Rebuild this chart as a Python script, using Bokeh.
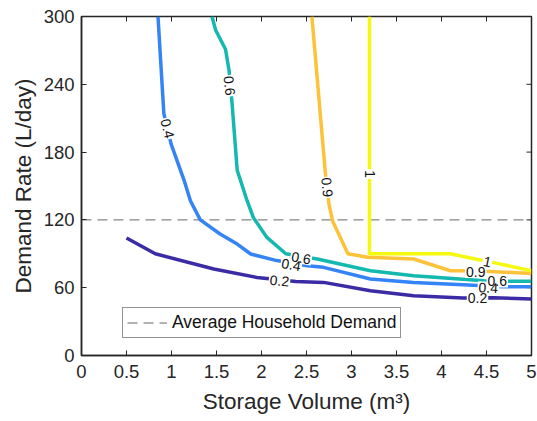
import math
from bokeh.plotting import figure
from bokeh.models import (FixedTicker, NumeralTickFormatter,
                          Legend, LegendItem, Range1d, ColumnDataSource)
from bokeh.embed import file_html
from bokeh.resources import INLINE
from bokeh.core.properties import value

# ---------------- data ----------------
x_lim = [0, 5]
y_lim = [0, 300]
x_ticks = [0, 0.5, 1, 1.5, 2, 2.5, 3, 3.5, 4, 4.5, 5]
y_ticks = [0, 60, 120, 180, 240, 300]
avg_demand = 120

x_02 = [0.5, 0.82, 1.47, 1.95, 2.38, 2.69, 3.21, 3.69, 4.24, 4.58, 5.0]
y_02 = [104, 90, 76.5, 69, 65.5, 64.7, 57.3, 52.9, 50.8, 51, 50]

x_04 = [0.85, 0.915, 0.996, 1.14, 1.21, 1.32, 1.54, 1.73, 1.88, 2.17, 2.51, 2.69, 3.21, 3.69, 4.24, 4.69, 5.0]
y_04 = [300, 214, 187, 155, 137, 120, 107.5, 98.6, 89.8, 84, 79.4, 78, 67.7, 64.7, 62.6, 60.9, 60.8]

x_06 = [1.45, 1.49, 1.6, 1.64, 1.67, 1.73, 1.84, 1.91, 2.06, 2.27, 2.62, 3.21, 3.69, 4.47, 4.8, 5.0]
y_06 = [300, 288, 271, 252, 226, 164, 137, 122, 104.5, 90, 85.4, 75, 70.6, 66.2, 65.6, 65.6]

x_09 = [2.56, 2.71, 2.75, 2.79, 2.96, 3.18, 3.69, 4.1, 4.21, 4.54, 5.0]
y_09 = [300, 161, 134, 119, 90, 87, 85.4, 75, 75, 74.4, 72.6]

x_10 = [3.2, 3.2, 4.1, 4.43, 4.62, 5.0]
y_10 = [300, 90, 90, 84.5, 81.5, 75]

levels = ["0.2", "0.4", "0.6", "0.9", "1"]
level_colors = ["#3B2CA6", "#3484F5", "#14B8AE", "#FCC33A", "#F5F80F"]

label_text = ["0.4", "0.6", "0.9", "1", "0.2", "0.4", "0.6", "1", "0.9", "0.6", "0.4", "0.2"]
label_x = [0.956, 1.645, 2.73, 3.2, 2.2, 2.33, 2.44, 4.51, 4.38, 4.62, 4.52, 4.4]
label_y = [200.8, 238.8, 148.8, 160.6, 66.2, 80.3, 86.3, 83.0, 74.1, 65.5, 60.0, 51.1]
label_angle = [-1.33, -1.46, -1.48, -1.5708, -0.10, -0.17, -0.16, -0.21, 0.0, 0.0, -0.05, 0.0]

FONT = "Liberation Sans"
DARK = "#262626"

# ---------------- figure ----------------
p = figure(width=537, height=421, output_backend="svg", toolbar_location=None,
           x_range=Range1d(*x_lim), y_range=Range1d(*y_lim),
           min_border_left=81, min_border_right=6, min_border_top=16, min_border_bottom=66,
           x_axis_label="Storage Volume (m³)", y_axis_label="Demand Rate (L/day)")
p.background_fill_color = "white"
p.border_fill_color = "white"
p.outline_line_color = DARK
p.outline_line_width = 1.5
p.grid.visible = False

p.xaxis.ticker = FixedTicker(ticks=x_ticks)
p.yaxis.ticker = FixedTicker(ticks=y_ticks)

for ax in p.axis:
    ax.formatter = NumeralTickFormatter(format="0.[0]")
    ax.axis_line_color = DARK
    ax.axis_line_width = 1.5
    ax.major_tick_line_color = DARK
    ax.major_tick_line_width = 1
    ax.major_tick_in = 5
    ax.major_tick_out = 0
    ax.minor_tick_line_color = None
    ax.major_label_text_font = FONT
    ax.major_label_text_font_size = "18.5px"
    ax.major_label_text_color = DARK
    ax.axis_label_text_font = FONT
    ax.axis_label_text_font_size = "22.5px"
    ax.axis_label_text_font_style = "normal"
    ax.axis_label_text_color = DARK

p.xaxis.major_label_standoff = 9
p.xaxis.axis_label_standoff = 8
p.yaxis.major_label_standoff = 7
p.yaxis.axis_label_standoff = 5

# inward ticks on the top and right edges of the box
p.scatter(x=x_ticks, y=[y_lim[1]] * len(x_ticks), marker="dash", angle=math.pi / 2,
          size=10, line_color=DARK, line_width=1)
p.scatter(x=[x_lim[1]] * len(y_ticks), y=y_ticks, marker="dash", angle=0,
          size=10, line_color=DARK, line_width=1)

# average demand line
avg_r = p.line(x=x_lim, y=[avg_demand, avg_demand], line_color="#666666",
               line_width=1, line_dash="10 6")

# contour lines
for xs, ys, c in zip([x_02, x_04, x_06, x_09, x_10], [y_02, y_04, y_06, y_09, y_10], level_colors):
    p.line(x=xs, y=ys, line_color=c, line_width=3.5, line_join="round")

# contour labels: backgrounds first, then text
lab_src = ColumnDataSource(dict(x=label_x, y=label_y, text=label_text, angle=label_angle))
p.text(x="x", y="y", text="text", angle="angle", source=lab_src,
       text_align="center", text_baseline="middle", text_font=value(FONT),
       text_font_size="14px", text_alpha=0, background_fill_color="white",
       padding=1)
p.text(x="x", y="y", text="text", angle="angle", source=lab_src,
       text_align="center", text_baseline="middle", text_font=value(FONT),
       text_font_size="14px", text_color="#111111")

legend = Legend(items=[LegendItem(label="Average Household Demand", renderers=[avg_r])],
                location=(41, 17), glyph_width=40, glyph_height=17,
                label_text_font=FONT, label_text_font_size="17.5px", label_text_color="#111111",
                label_standoff=5, padding=4, spacing=0, margin=0,
                border_line_color=DARK, border_line_width=1,
                background_fill_color="white", background_fill_alpha=1)
p.add_layout(legend, "center")

open("out.html", "w").write(file_html(p, INLINE))
